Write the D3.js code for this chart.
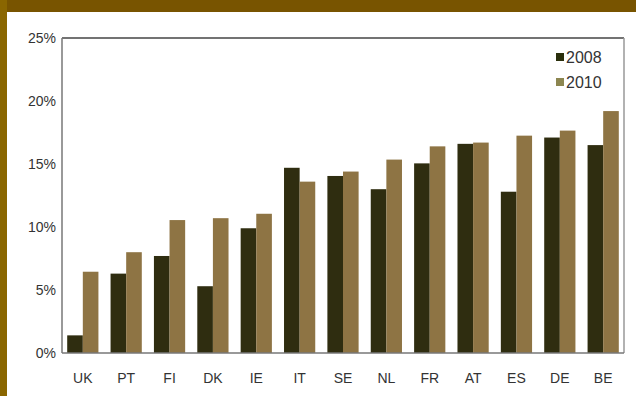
<!DOCTYPE html>
<html><head><meta charset="utf-8">
<script src="https://cdn.jsdelivr.net/npm/d3@7/dist/d3.min.js"></script>
<style>body{margin:0;background:#fff;}svg{display:block;}</style>
</head><body>
<svg id="c" width="636" height="396"></svg>
<script>
const countries = ["UK","PT","FI","DK","IE","IT","SE","NL","FR","AT","ES","DE","BE"];
const series2008 = [1.4,6.3,7.7,5.3,9.9,14.7,14.05,13.0,15.05,16.6,12.8,17.1,16.5];
const series2010 = [6.45,8.0,10.55,10.7,11.05,13.6,14.4,15.35,16.4,16.7,17.25,17.65,19.2];
const seriesNames = ["2008","2010"];
const yTicks = [0,5,10,15,20,25];

const svg = d3.select("#c");
const W = 636, H = 396;
const m = {l:62, r:624, t:38, b:353};

// brown frame
svg.append("rect").attr("x",0).attr("y",0).attr("width",W).attr("height",H).attr("fill","#fff");
svg.append("rect").attr("x",0).attr("y",0).attr("width",W).attr("height",12).attr("fill","#785400");
svg.append("rect").attr("x",0).attr("y",0).attr("width",7).attr("height",H).attr("fill","#8a6600");

const x0 = d3.scaleBand().domain(countries).range([m.l, m.r]).paddingInner(0.28).paddingOuter(0.12);
const x1 = d3.scaleBand().domain(seriesNames).range([0, x0.bandwidth()]);
const y = d3.scaleLinear().domain([0,25]).range([m.b, m.t]);
const color = d3.scaleOrdinal().domain(seriesNames).range(["#2f2d10","#8e7444"]);

const font = "'Liberation Sans Narrow','Arial Narrow','Liberation Sans',sans-serif";

// bars
const data = countries.map((c,i)=>({c, vals:[{k:"2008",v:series2008[i]},{k:"2010",v:series2010[i]}]}));
const g = svg.append("g");
g.selectAll("g").data(data).join("g")
  .attr("transform", d=>`translate(${x0(d.c)},0)`)
  .selectAll("rect").data(d=>d.vals).join("rect")
  .attr("x", d=>x1(d.k)).attr("width", x1.bandwidth())
  .attr("y", d=>y(d.v)).attr("height", d=>y(0)-y(d.v))
  .attr("fill", d=>color(d.k));

// plot frame
svg.append("line").attr("x1",m.l).attr("x2",m.r).attr("y1",m.t).attr("y2",m.t).attr("stroke","#444").attr("stroke-width",1.5);
svg.append("line").attr("x1",m.r).attr("x2",m.r).attr("y1",m.t).attr("y2",m.b).attr("stroke","#999").attr("stroke-width",1.5);
svg.append("line").attr("x1",m.l).attr("x2",m.l).attr("y1",m.t).attr("y2",m.b).attr("stroke","#777").attr("stroke-width",1.5);
svg.append("line").attr("x1",m.l).attr("x2",m.r).attr("y1",m.b).attr("y2",m.b).attr("stroke","#777").attr("stroke-width",1.5);

// y axis
const ya = svg.append("g").attr("transform",`translate(${m.l},0)`)
  .call(d3.axisLeft(y).tickValues(yTicks).tickFormat(d=>d+"%").tickSize(0).tickPadding(6));
ya.select(".domain").remove();
ya.selectAll("text").attr("font-family",font).attr("font-size",14).attr("fill","#333");

// x axis
const xa = svg.append("g").attr("transform",`translate(0,${m.b})`)
  .call(d3.axisBottom(x0).tickSize(0).tickPadding(20));
xa.select(".domain").remove();
xa.selectAll("text").attr("font-family",font).attr("font-size",14).attr("fill","#333");

// legend
const lg = svg.append("g").selectAll("g").data(seriesNames).join("g")
  .attr("transform",(d,i)=>`translate(556,${53+i*25})`);
lg.append("rect").attr("width",8).attr("height",8).attr("fill",(d,i)=>i===0?"#2a2f0c":"#8c8650");
lg.append("text").attr("x",10).attr("y",4).attr("dy","0.35em").text(d=>d)
  .attr("font-family",font).attr("font-size",16).attr("fill","#333");
</script>
</body></html>
